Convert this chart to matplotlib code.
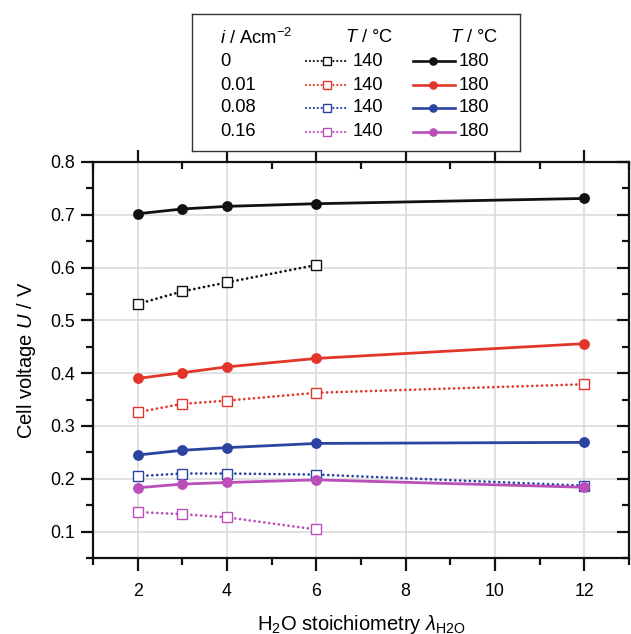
import matplotlib
matplotlib.use("Agg")
import matplotlib.pyplot as plt
from matplotlib.ticker import MultipleLocator

plt.rcParams['font.family'] = ['Liberation Sans', 'DejaVu Sans']
plt.rcParams['mathtext.fontset'] = 'custom'
plt.rcParams['mathtext.rm'] = 'Liberation Sans'
plt.rcParams['mathtext.it'] = 'Liberation Sans:italic'
plt.rcParams['mathtext.bf'] = 'Liberation Sans:bold'

# ---- data ----
currents = ["0", "0.01", "0.08", "0.16"]
colors = ["#111111", "#e2362a", "#2b44a0", "#bb4fb9"]

x_180 = [2, 3, 4, 6, 12]
u_180_i0 = [0.702, 0.711, 0.716, 0.721, 0.731]
u_180_i001 = [0.390, 0.401, 0.412, 0.428, 0.456]
u_180_i008 = [0.245, 0.254, 0.259, 0.267, 0.269]
u_180_i016 = [0.183, 0.190, 0.193, 0.198, 0.184]

x_140_i0 = [2, 3, 4, 6]
u_140_i0 = [0.531, 0.555, 0.572, 0.605]
x_140_i001 = [2, 3, 4, 6, 12]
u_140_i001 = [0.326, 0.342, 0.348, 0.363, 0.379]
x_140_i008 = [2, 3, 4, 6, 12]
u_140_i008 = [0.205, 0.210, 0.210, 0.208, 0.187]
x_140_i016 = [2, 3, 4, 6]
u_140_i016 = [0.137, 0.133, 0.127, 0.104]

series_180 = [u_180_i0, u_180_i001, u_180_i008, u_180_i016]
series_140 = [(x_140_i0, u_140_i0), (x_140_i001, u_140_i001),
              (x_140_i008, u_140_i008), (x_140_i016, u_140_i016)]

xticks = [2, 4, 6, 8, 10, 12]
yticks = [0.1, 0.2, 0.3, 0.4, 0.5, 0.6, 0.7, 0.8]

W, H = 631, 634
fig = plt.figure(figsize=(W / 100, H / 100), dpi=100)
ax = fig.add_axes([93 / W, 1 - 558 / H, (629 - 93) / W, (558 - 162) / H])

dot_style = (0, (0.01, 1.75))
for c, (xs, ys) in zip(colors, series_140):
    ax.plot(xs, ys, linestyle=dot_style, lw=2.0, color=c, marker='s',
            markersize=6.6, markerfacecolor='white', markeredgecolor=c,
            markeredgewidth=1.0, zorder=3, dash_capstyle='round')
for c, ys in zip(colors, series_180):
    ax.plot(x_180, ys, '-', lw=2.0, color=c, marker='o', markersize=7.8,
            markeredgewidth=0, zorder=4)

ax.set_xlim(1, 13)
ax.set_ylim(0.05, 0.8)
ax.set_xticks(xticks)
ax.set_yticks(yticks)
ax.set_xticklabels([str(v) for v in xticks])
ax.set_yticklabels([f"{v:.1f}" for v in yticks])
ax.xaxis.set_minor_locator(MultipleLocator(1))
ax.yaxis.set_minor_locator(MultipleLocator(0.05))
ax.grid(True, which='major', color='#dcdcdc', lw=1.2, zorder=0)
ax.set_axisbelow(True)

for s in ax.spines.values():
    s.set_linewidth(1.6)
    s.set_color('#111111')

ax.tick_params(axis='both', which='major', labelsize=12.8, length=9, width=1.6,
               color='#111111', pad=4)
ax.tick_params(axis='both', which='minor', length=5, width=1.6, color='#111111')
ax.tick_params(axis='x', which='both', direction='out', top=True, bottom=True)
ax.tick_params(axis='y', which='both', direction='out', left=True, right=True)
# inward ticks on top and right
for t in ax.xaxis.get_major_ticks() + ax.xaxis.get_minor_ticks():
    t.tick2line.set_marker(3)  # TICKDOWN
for t in ax.yaxis.get_major_ticks() + ax.yaxis.get_minor_ticks():
    t.tick2line.set_marker(0)  # TICKLEFT
ax.tick_params(axis='x', which='major', pad=9)

ax.set_xlabel(r'H$_2$O stoichiometry $\lambda_{\mathrm{H2O}}$', fontsize=14.5, labelpad=9)
ax.set_ylabel(r'Cell voltage $U$ / V', fontsize=14.5, labelpad=9)

# ---- legend table ----
lx0, lx1, ly0, ly1 = 192, 520, 14, 151
lax = fig.add_axes([lx0 / W, 1 - ly1 / H, (lx1 - lx0) / W, (ly1 - ly0) / H])
lax.set_xlim(lx0, lx1)
lax.set_ylim(ly1, ly0)
lax.set_xticks([])
lax.set_yticks([])
for s in lax.spines.values():
    s.set_linewidth(1.0)
    s.set_color('#333333')

fs = 13.2
rows_y = [61, 85, 108, 132]
lax.text(220, 38, r'$i$ / Acm$^{-2}$', fontsize=fs, va='center', ha='left')
lax.text(393, 38, r'$T$ / °C', fontsize=fs, va='center', ha='right')
lax.text(498, 38, r'$T$ / °C', fontsize=fs, va='center', ha='right')
for yy, lab, c in zip(rows_y, currents, colors):
    lax.text(220, yy, lab, fontsize=fs, va='center', ha='left')
    lax.plot([306, 347], [yy, yy], linestyle=dot_style, lw=1.6, color=c,
             dash_capstyle='round')
    lax.plot([327], [yy], marker='s', markersize=5.2, markerfacecolor='white',
             markeredgecolor=c, markeredgewidth=1.0, linestyle='none')
    lax.text(353, yy, "140", fontsize=fs, va='center', ha='left')
    lax.plot([413, 455], [yy, yy], '-', lw=1.9, color=c)
    lax.plot([433], [yy], marker='o', markersize=6.2, color=c, markeredgewidth=0,
             linestyle='none')
    lax.text(459, yy, "180", fontsize=fs, va='center', ha='left')

fig.savefig("out.png", dpi=100)
